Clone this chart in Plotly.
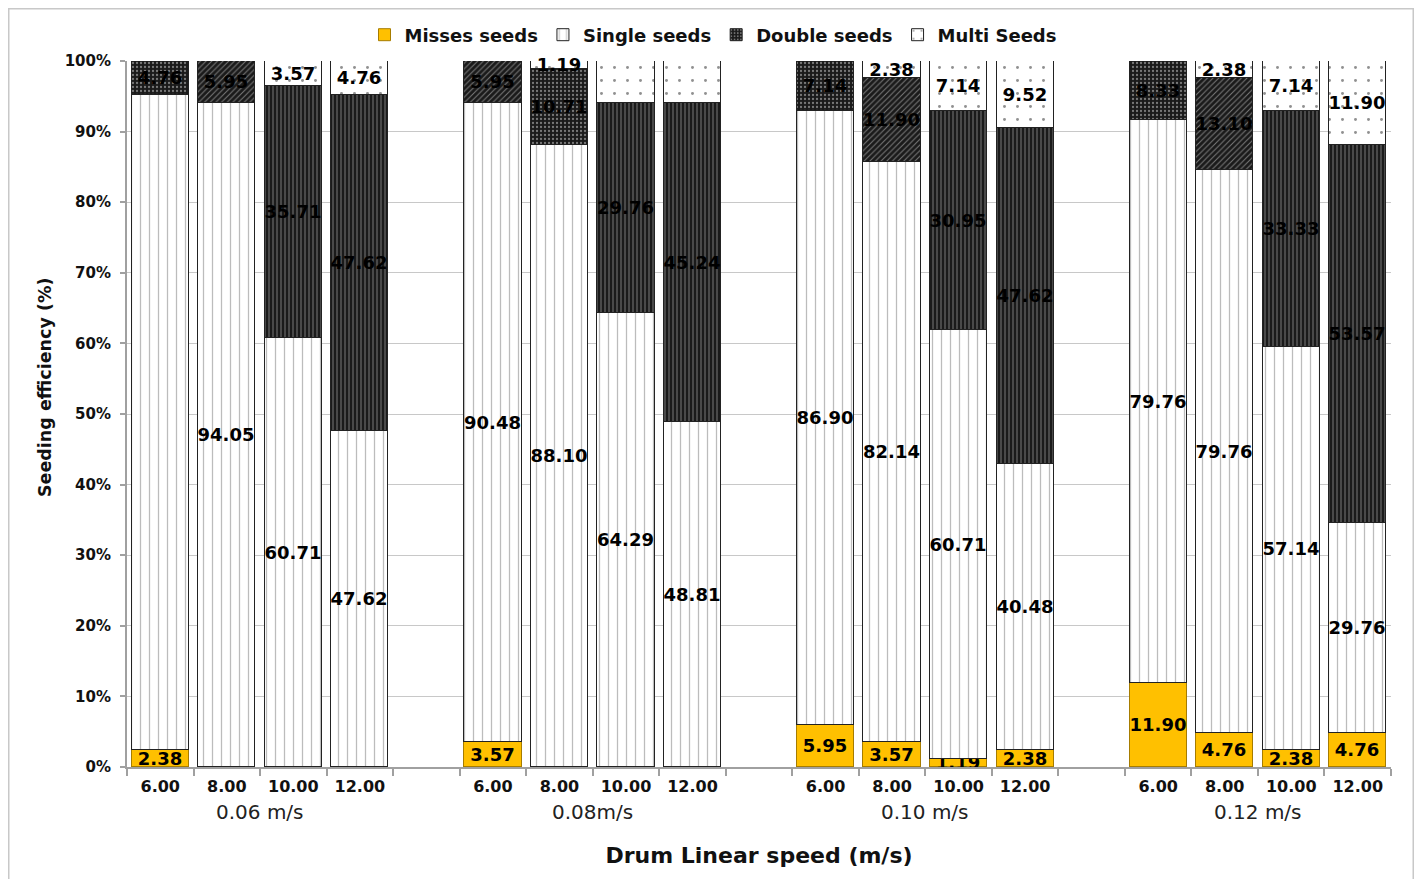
import plotly.graph_objects as go

groups = ["0.06 m/s", "0.08m/s", "0.10 m/s", "0.12 m/s"]
speeds = ["6.00", "8.00", "10.00", "12.00"]

misses = [2.38, 0, 0, 0,
          3.57, 0, 0, 0,
          5.95, 3.57, 1.19, 2.38,
          11.90, 4.76, 2.38, 4.76]
single = [92.86, 94.05, 60.71, 47.62,
          90.48, 88.10, 64.29, 48.81,
          86.90, 82.14, 60.71, 40.48,
          79.76, 79.76, 57.14, 29.76]
double = [4.76, 5.95, 35.71, 47.62,
          5.95, 10.71, 29.76, 45.24,
          7.14, 11.90, 30.95, 47.62,
          8.33, 13.10, 33.33, 53.57]
multi = [0, 0, 3.57, 4.76,
         0, 1.19, 5.95, 5.95,
         0, 2.38, 7.14, 9.52,
         0, 2.38, 7.14, 11.90]

# labels hidden in the original chart (index into the flat lists)
hidden_single = [0]

# styles
double_shapes = [".", "/", "|", "|",
                 "/", ".", "|", "|",
                 ".", "/", "|", "|",
                 ".", "/", "|", "|"]

n_per = len(speeds)
slot = n_per + 1
xpos = [g * slot + i for g in range(len(groups)) for i in range(n_per)]
ticktext = [s for _ in groups for s in speeds]


def labels(vals, hidden=()):
    return ["" if (v == 0 or k in hidden) else f"{v:.2f}" for k, v in enumerate(vals)]


lab_font = dict(family="DejaVu Sans", size=18, color="black", weight="bold")
common = dict(x=xpos, width=0.86, textposition="inside", insidetextanchor="middle",
              textangle=0, cliponaxis=False, textfont=lab_font, constraintext="none")

fig = go.Figure()
fig.add_trace(go.Bar(name="Misses seeds", y=misses, text=labels(misses),
                     marker=dict(color="#FFC000", line=dict(color="#A67C00", width=1)),
                     **common))
fig.add_trace(go.Bar(name="Single seeds", y=single, text=labels(single, hidden_single),
                     marker=dict(color="white", line=dict(color="#222", width=1),
                                 pattern=dict(shape="|", fgcolor="#7a7a7a", bgcolor="white",
                                              size=9, solidity=0.14)),
                     **common))
fig.add_trace(go.Bar(name="Double seeds", y=double, text=labels(double),
                     marker=dict(color="#1a1a1a", line=dict(color="#222", width=1),
                                 pattern=dict(shape=double_shapes, fgcolor="#d8d8d8", bgcolor="#1a1a1a",
                                              size=4, solidity=0.25)),
                     **common))
fig.add_trace(go.Bar(name="Multi Seeds", y=multi, text=labels(multi),
                     marker=dict(color="white", line=dict(color="#222", width=1),
                                 pattern=dict(shape=".", fgcolor="#222", bgcolor="white",
                                              size=13, solidity=0.04)),
                     **common))

# page body has an 8px margin; figure is sized to sit inside it
FW, FH = 1406, 871
L, R, T, B = 119, 1383, 53, 759
W, H = R - L, B - T

# group labels
for g, name in enumerate(groups):
    fig.add_annotation(x=g * slot + (n_per - 1) / 2, y=0, xref="x", yref="paper",
                       yshift=-45, yanchor="middle", text=name, showarrow=False,
                       font=dict(family="DejaVu Sans", size=20, color="#222"))

# y-axis title
fig.add_annotation(x=(37 - L) / W, y=(B - 380) / H, xref="paper", yref="paper",
                   text="Seeding efficiency (%)", textangle=-90, showarrow=False,
                   xanchor="center", yanchor="middle",
                   font=dict(family="DejaVu Sans", size=17.5, color="#111", weight="bold"))

# outer frame
fig.add_shape(type="rect", xref="paper", yref="paper",
              x0=(0.75 - L) / W, x1=(1405.25 - L) / W, y0=(B - 900) / H, y1=(B - 0.75) / H,
              line=dict(color="#c8c8c8", width=1.5), fillcolor="rgba(0,0,0,0)", layer="below")

fig.update_layout(
    barmode="stack",
    width=FW, height=FH,
    margin=dict(l=L, r=FW - R, t=T, b=FH - B, autoexpand=False),
    plot_bgcolor="white", paper_bgcolor="white",
    uniformtext=dict(minsize=18, mode="show"),
    legend=dict(orientation="h", x=(705 - L) / W, xanchor="center",
                y=1 + (T - 27) / H, yanchor="middle", bgcolor="rgba(0,0,0,0)",
                font=dict(family="DejaVu Sans", size=18, color="#111", weight="bold"),
                itemwidth=30, traceorder="normal"),
    xaxis=dict(range=[-0.5, (len(groups) - 1) * slot + n_per - 0.5], automargin=False,
               tickmode="array", tickvals=xpos, ticktext=ticktext, ticks="",
               ticklabelstandoff=4,
               tickfont=dict(family="DejaVu Sans", size=16, color="#111", weight="bold"),
               showline=True, linecolor="#a0a0a0", linewidth=2, showgrid=False, zeroline=False,
               minor=dict(ticks="outside", tickmode="linear", tick0=-0.5, dtick=1, ticklen=7,
                          tickcolor="#a0a0a0", tickwidth=2, showgrid=False),
               title=dict(text="Drum Linear speed (m/s)", standoff=52,
                          font=dict(family="DejaVu Sans", size=22, color="#111", weight="bold"))),
    yaxis=dict(range=[0, 100], automargin=False, tickmode="linear", tick0=0, dtick=10, ticksuffix="%",
               tickfont=dict(family="DejaVu Sans", size=15, color="#111", weight="bold"),
               ticks="outside", ticklen=5, tickcolor="#a0a0a0", tickwidth=1.5,
               ticklabelstandoff=6,
               showline=True, linecolor="#a0a0a0", linewidth=2,
               showgrid=True, gridcolor="#c8c8c8", gridwidth=1, zeroline=False),
    bargap=0,
)

fig.write_html("out.html")
